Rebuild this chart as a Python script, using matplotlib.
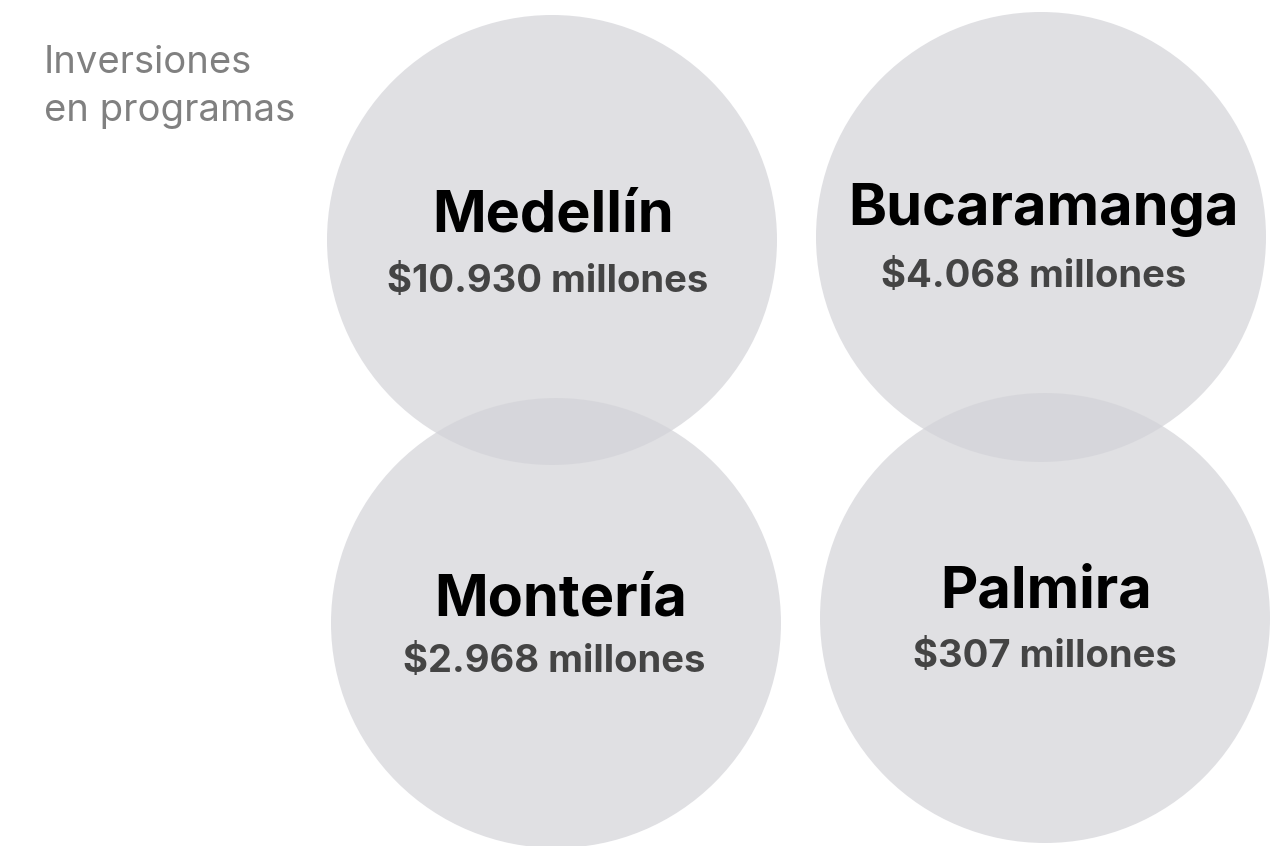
import matplotlib
matplotlib.use("Agg")
import matplotlib.pyplot as plt
from matplotlib.patches import Circle

# data
cities = ["Medellín", "Bucaramanga", "Montería", "Palmira"]
investments = [10930, 4068, 2968, 307]  # millones de pesos

# layout (pixel coordinates, y down)
centers = [(552, 240), (1041, 237), (556, 623), (1045, 618)]
radius = 225
name_offsets = [(1, -8), (2, -12), (5, -8), (1, -11)]
value_offsets = [(-4, 52), (-7, 50), (-2, 49), (0, 49)]

plt.rcParams["font.family"] = ["Inter", "DejaVu Sans"]

W, H = 1270, 846
fig = plt.figure(figsize=(W / 100, H / 100), dpi=100)
ax = fig.add_axes([0, 0, 1, 1])
ax.set_xlim(0, W)
ax.set_ylim(H, 0)
ax.axis("off")

for (cx, cy) in centers:
    ax.add_patch(Circle((cx, cy), radius, facecolor="#d3d3d8", alpha=0.7,
                        edgecolor="none"))


def fmt(v):
    return "$" + f"{v:,}".replace(",", ".") + " millones"


for city, val, (cx, cy), (nx, ny), (vx, vy) in zip(
        cities, investments, centers, name_offsets, value_offsets):
    ax.text(cx + nx, cy + ny, city, ha="center", va="baseline",
            fontsize=41.5, fontweight="bold", color="#000000")
    ax.text(cx + vx, cy + vy, fmt(val), ha="center", va="baseline",
            fontsize=27.5, fontweight="bold", color="#444444")

ax.text(44, 73, "Inversiones", ha="left", va="baseline",
        fontsize=27.5, color="#808080")
ax.text(44, 121, "en programas", ha="left", va="baseline",
        fontsize=27.5, color="#808080")

fig.savefig("out.png", dpi=100)
